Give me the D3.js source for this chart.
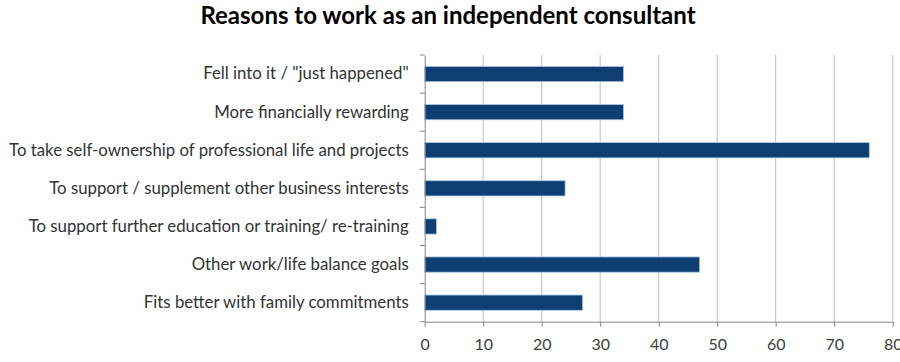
<!DOCTYPE html>
<html><head><meta charset="utf-8">
<script src="https://cdn.jsdelivr.net/npm/d3@7"></script>
<style>
body{margin:0;background:#fff;}
svg text{font-family:Lato,"Open Sans",sans-serif;}
</style></head>
<body><svg id="c" width="900" height="362"></svg>
<script>
const categories = [
  "Fell into it / \"just happened\"",
  "More financially rewarding",
  "To take self-ownership of professional life and projects",
  "To support / supplement other business interests",
  "To support further education or training/ re-training",
  "Other work/life balance goals",
  "Fits better with family commitments"
];
const values = [34, 34, 76, 24, 2, 47, 27];
const xTicks = [0, 10, 20, 30, 40, 50, 60, 70, 80];
const title = "Reasons to work as an independent consultant";

const svg = d3.select("#c");
const pL = 424.7, pR = 892.7, pT = 55, pB = 321.7;
const x = d3.scaleLinear().domain([0, 80]).range([pL, pR]);
const y = d3.scaleBand().domain(categories).range([pT, pB]).paddingInner(0.6).paddingOuter(0.3);
const yb = d3.scaleBand().domain(categories).range([pT, pB]);

svg.append("text").attr("x", 448).attr("y", 24).attr("text-anchor", "middle")
  .attr("font-size", 24).attr("font-weight", "bold").attr("fill", "#000").text(title);

// gridlines
svg.append("g").selectAll("line").data(xTicks.slice(1)).join("line")
  .attr("x1", d => x(d)).attr("x2", d => x(d)).attr("y1", pT).attr("y2", pB)
  .attr("stroke", "#bfbfbf").attr("stroke-width", 1);

// bars
svg.append("g").selectAll("rect").data(values).join("rect")
  .attr("x", x(0)).attr("y", (d, i) => y(categories[i]))
  .attr("width", d => x(d) - x(0)).attr("height", y.bandwidth())
  .attr("fill", "#0e3e72").attr("stroke", "#a9c8e8").attr("stroke-width", 0.8);

// y axis
const ya = d3.axisLeft(yb).tickSize(0).tickPadding(16);
const gy = svg.append("g").attr("transform", `translate(${pL},0)`).call(ya);
gy.select(".domain").attr("stroke", "#868686");
gy.selectAll("text").attr("font-size", 16.8).attr("fill", "#333333");
// category boundary ticks
svg.append("g").selectAll("line").data(d3.range(categories.length + 1)).join("line")
  .attr("x1", pL - 5).attr("x2", pL)
  .attr("y1", i => pT + i * yb.step()).attr("y2", i => pT + i * yb.step())
  .attr("stroke", "#868686");

// x axis
const xa = d3.axisBottom(x).tickValues(xTicks).tickSize(5).tickPadding(6).tickSizeOuter(0);
const gx = svg.append("g").attr("transform", `translate(0,${pB})`).call(xa);
gx.select(".domain").attr("stroke", "#868686");
gx.selectAll(".tick line").attr("stroke", "#868686");
gx.selectAll("text").attr("font-size", 16).attr("fill", "#404040").attr("dy", null).attr("y", 28);
</script></body></html>
